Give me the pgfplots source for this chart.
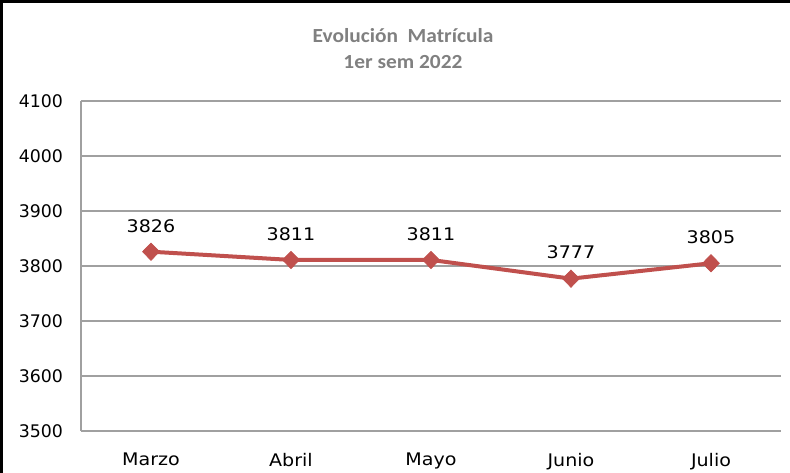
\documentclass[border=0pt]{standalone}
\usepackage{fontspec}
\setmainfont{DejaVu Sans}
\newfontfamily\titlefont{Carlito}
\usepackage{pgfplots}
\pgfplotsset{compat=1.18}
\definecolor{serie}{HTML}{C0504D}
\definecolor{rejilla}{RGB}{160,160,160}
\definecolor{titulo}{RGB}{128,128,128}
\begin{document}
\begin{tikzpicture}[x=0.75pt,y=0.75pt]
% picture frame in px units: (X,Y) of the image -> (X-81, 431-Y)
\path[use as bounding box] (-81,-42) rectangle (709,431);
\draw[line width=2.25pt,black] (-79.5,-50) -- (-79.5,429.5) -- (720,429.5);
\node[font=\titlefont\bfseries\fontsize{15}{17}\selectfont,text=titulo,anchor=base,inner sep=0pt,xscale=1.07]
  at (322,388) {Evolución\ \ Matrícula};
\node[font=\titlefont\bfseries\fontsize{15}{17}\selectfont,text=titulo,anchor=base,inner sep=0pt,xscale=1.07]
  at (322,362) {1er sem 2022};
\begin{axis}[at={(0,0)},anchor=south west,scale only axis,
 width=525pt,height=247.5pt,
 xmin=-0.5,xmax=4.5,ymin=3500,ymax=4100,
 xtick={0,1,2,3,4},xticklabels={Marzo,Abril,Mayo,Junio,Julio},
 ytick distance=100,
 axis x line*=bottom,axis y line*=left,
 axis line style={rejilla,line width=1.1pt,-},
 major tick length=0pt,
 ymajorgrids=true,grid style={rejilla,line width=1.1pt},
 /pgf/number format/assume math mode=true,
 /pgf/number format/set thousands separator={},
 tick label style={font=\fontsize{13}{15}\selectfont,black},
 yticklabel style={xshift=-10pt},
 xticklabel style={yshift=-13pt,xscale=1.1},
 nodes near coords,
 every node near coord/.append style={font=\fontsize{13}{15}\selectfont,black,xscale=1.1,anchor=center,yshift=19.5pt},
 clip=false]
\addplot[serie,line width=3pt,mark=diamond*,mark size=6.5pt,
 mark options={xscale=1.3,fill=serie,line width=0.5pt}]
 coordinates {(0,3826) (1,3811) (2,3811) (3,3777) (4,3805)};
\end{axis}
\end{tikzpicture}
\end{document}
